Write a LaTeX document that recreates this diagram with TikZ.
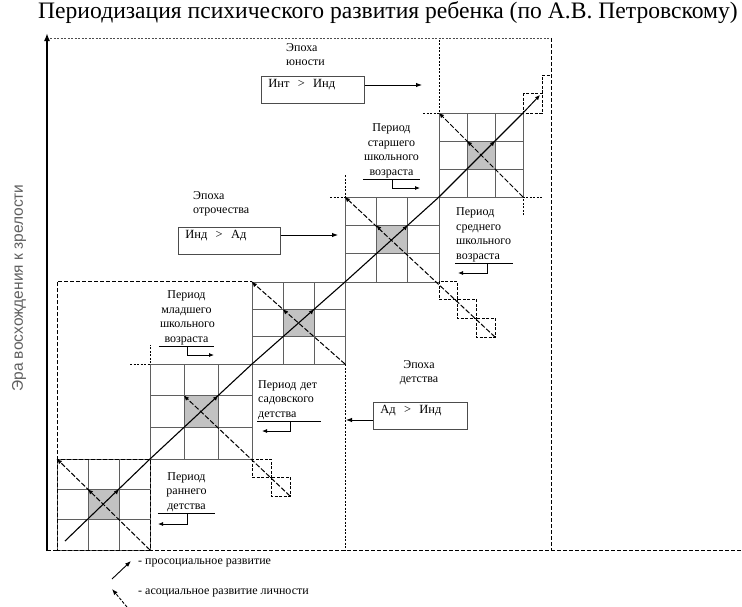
\documentclass[tikz,border=0pt]{standalone}
\usepackage{fontspec}
\setmainfont{Liberation Serif}
\newfontfamily\axisfont{Liberation Sans}
\usetikzlibrary{arrows.meta, calc}
\definecolor{cellfill}{RGB}{194, 194, 194}
\definecolor{gridgray}{RGB}{95, 95, 95}
\definecolor{axisgray}{RGB}{95, 95, 95}
\tikzset{
    gridline/.style={gridgray, line width=0.8pt},
    epochline/.style={dash pattern=on 4pt off 2pt, line width=1pt},
    thinepoch/.style={dash pattern=on 2pt off 1.5pt, line width=0.7pt},
    smallbox/.style={dash pattern=on 3pt off 1.5pt, line width=1pt},
    eraaxis/.style={line width=2pt, -{Latex[length=8pt, width=6pt]}},
    prosocial/.style={line width=1.1pt},
    asocial/.style={line width=1pt, dash pattern=on 5pt off 2pt},
    protip/.style={line width=1pt, -{Latex[length=5pt, width=4.5pt]}},
    boxarrow/.style={line width=0.9pt, -{Latex[length=6pt, width=4.5pt]}},
    hookarrow/.style={line width=0.8pt, -{Latex[length=5pt, width=4pt]}},
    titletext/.style={font=\fontsize{23.6}{26}\selectfont, inner sep=0pt},
    axislabel/.style={font=\axisfont\fontsize{15.5}{18}\selectfont,
        text=axisgray, inner sep=0pt},
    labeltext/.style={font=\fontsize{12}{14.5}\selectfont, inner sep=1pt},
    relbox/.style={draw=black!70, line width=0.6pt, anchor=north west,
        font=\fontsize{12.5}{13}\selectfont, align=left, inner xsep=7pt,
        inner ysep=3pt, text height=8pt, text depth=13pt},
}

\begin{document}
\begin{tikzpicture}[x=1pt, y=-1pt]
    \useasboundingbox (0,0) rectangle (742,606);

    \node[titletext] (title) at (388,13)
        {Периодизация психического развития ребенка (по А.В. Петровскому)};

    % epoch borders
    \draw[thinepoch, black!70] (50,38) -- (551,38);
    \draw[epochline] (551,38) -- (551,550);
    \draw[epochline] (47,550) -- (742,550);
    \draw[epochline] (57,550) -- (57,281) -- (252,281);
    \draw[thinepoch] (345,175) -- (345,550);
    \draw[thinepoch] (130,364) -- (150,364) -- (150,345);
    \draw[thinepoch] (330,197) -- (345,197);
    \draw[thinepoch] (423,113) -- (439,113) -- (439,38);
    \draw[thinepoch] (523,215) -- (523,197) -- (543,197);

    % axis
    \coordinate (axisbot) at (47,551);
    \coordinate (axistop) at (47,33);
    \draw[eraaxis] (axisbot) -- (axistop);
    \node[axislabel, rotate=90] (axislbl) at (19,288)
        {Эра восхождения к зрелости};

    % grids of the periods
    \foreach \xa/\ya/\xb/\yb [count=\i] in {57/459/150/550, 150/364/252/459,
            252/282/345/364, 345/197/439/282, 439/113/523/197}{
        \pgfmathsetmacro\cw{(\xb-\xa)/3}
        \pgfmathsetmacro\ch{(\yb-\ya)/3}
        \begin{scope}[shift={(\xa,\ya)}, x=\cw pt, y=-\ch pt]
            \fill[cellfill] (1,1) rectangle (2,2);
            \foreach \k in {0,...,3}{
                \draw[gridline] (\k,0) -- (\k,3);
                \draw[gridline] (0,\k) -- (3,\k);
            }
            \coordinate (g\i-tl) at (0,0);
            \coordinate (g\i-tr) at (3,0);
            \coordinate (g\i-br) at (3,3);
            \coordinate (g\i-sl) at (1,1);
            \coordinate (g\i-sr) at (2,1);
        \end{scope}
    }
    \draw[epochline] (g1-tl) rectangle (g1-br);

    % small dashed squares
    \draw[smallbox] (252,459) rectangle (271,477);
    \draw[smallbox] (271,477) rectangle (290,496);
    \draw[smallbox] (439,281) rectangle (457,299);
    \draw[smallbox] (457,299) rectangle (476,318);
    \draw[smallbox] (476,318) rectangle (495,337);
    \draw[smallbox] (523,93) rectangle (542,113);
    \draw[smallbox] (542,93) -- (542,75) -- (551,75);

    % prosocial line
    \coordinate (prostart) at (65,541);
    \coordinate (prostip) at (540,95);
    \draw[prosocial] (prostart) -- (g1-tr) -- (g2-tr) -- (g3-tr) -- (g4-tr)
        -- (g5-tr);
    \draw[protip] (g5-tr) -- (prostip);
    \foreach \i in {1,...,5}
        \draw[protip] ($(g\i-sr)+(-2.5,2.5)$) -- (g\i-sr);

    % asocial lines
    \coordinate (asoc2end) at (290,496);
    \coordinate (asoc4end) at (495,337);
    \foreach \i in {1,3,5}
        \draw[asocial] (g\i-br) -- (g\i-tl);
    \draw[asocial] (asoc2end) -- (g2-sl);
    \draw[asocial] (asoc4end) -- (g4-tl);
    \foreach \i in {1,...,5}
        \draw[protip] ($(g\i-sl)+(2.5,2.5)$) -- (g\i-sl);
    \foreach \i in {1,3,4,5}
        \draw[protip] ($(g\i-tl)+(2.5,2.5)$) -- (g\i-tl);

    % epochs
    \node[labeltext, anchor=north west, align=left] (youthlbl) at (285,42)
        {Эпоха\\юности};
    \node[relbox, text width=89pt] (youthrel) at (261,76)
        {Инт\ \ >\ \ Инд};
    \coordinate (youthtip) at (422,85);
    \draw[boxarrow] (youthrel.east |- youthtip) -- (youthtip);

    \node[labeltext, anchor=north west, align=left] (teenlbl) at (192,190)
        {Эпоха\\отрочества};
    \node[relbox, text width=88pt] (teenrel) at (178,227)
        {Инд\ \ >\ \ Ад};
    \coordinate (teentip) at (338,235);
    \draw[boxarrow] (teenrel.east |- teentip) -- (teentip);

    \node[labeltext, anchor=north, align=center] (childlbl) at (419,359)
        {Эпоха\\детства};
    \node[relbox, text width=80pt] (childrel) at (373,402)
        {Ад\ \ >\ \ Инд};
    \coordinate (childtip) at (346,420);
    \draw[boxarrow] (childrel.west |- childtip) -- (childtip);

    % periods
    \node[labeltext, anchor=south, align=center, text width=55pt]
        (earlylbl) at (186.5,513) {Период\\раннего\\детства};
    \draw[line width=0.6pt] (earlylbl.south west) -- (earlylbl.south east);
    \draw[hookarrow] ($(earlylbl.south)+(0.5,0)$) -- ++(0,11) -- ++(-29,0);

    \node[labeltext, anchor=south west, align=left, text width=62pt]
        (kinderlbl) at (257,421) {Период дет\\садовского\\детства};
    \draw[line width=0.6pt] (kinderlbl.south west) -- (kinderlbl.south east);
    \draw[hookarrow] ($(kinderlbl.south west)+(33,0)$) -- ++(0,10) -- ++(-28,0);

    \node[labeltext, anchor=south, align=center, text width=53pt]
        (juniorlbl) at (186.5,346) {Период\\младшего\\школьного\\возраста};
    \draw[line width=0.6pt] (juniorlbl.south west) -- (juniorlbl.south east);
    \draw[hookarrow] ($(juniorlbl.south)+(0.5,0)$) -- ++(0,9) -- ++(27,0);

    \node[labeltext, anchor=south west, align=left, text width=56pt]
        (middlelbl) at (455,263) {Период\\среднего\\школьного\\возраста};
    \draw[line width=0.6pt] (middlelbl.south west) -- (middlelbl.south east);
    \draw[hookarrow] ($(middlelbl.south west)+(32,0)$) -- ++(0,10) -- ++(-29,0);

    \node[labeltext, anchor=south, align=center, text width=55pt]
        (seniorlbl) at (391.5,179) {Период\\старшего\\школьного\\возраста};
    \draw[line width=0.6pt] (seniorlbl.south west) -- (seniorlbl.south east);
    \draw[hookarrow] ($(seniorlbl.south)+(0.5,0)$) -- ++(0,9) -- ++(28,0);

    % legend
    \coordinate (prolegtail) at (112,579);
    \coordinate (prolegtip) at (131,561);
    \draw[boxarrow] (prolegtail) -- (prolegtip);
    \node[labeltext, anchor=west] (prolegtext) at (137,563)
        {- просоциальное развитие};
    \coordinate (asoclegtail) at (127,607);
    \coordinate (asoclegtip) at (112,589);
    \draw[boxarrow, dash pattern=on 3pt off 1.5pt] (asoclegtail) -- (asoclegtip);
    \node[labeltext, anchor=west] (asoclegtext) at (137,593)
        {- асоциальное развитие личности};
\end{tikzpicture}
\end{document}
